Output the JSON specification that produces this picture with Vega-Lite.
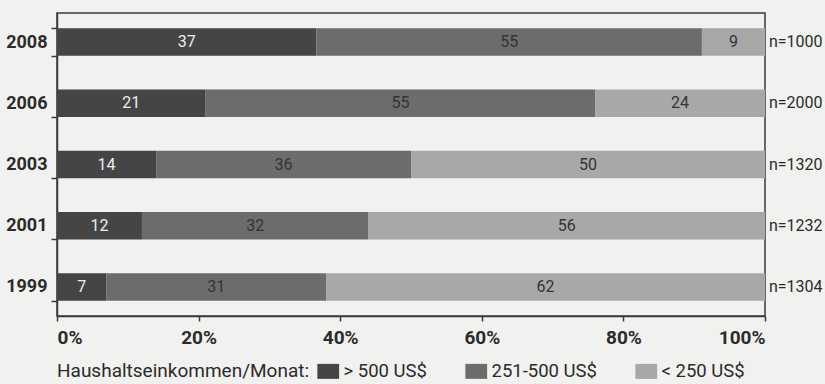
{
  "$schema": "https://vega.github.io/schema/vega-lite/v6.json",
  "width": 708,
  "height": 303,
  "autosize": {"type": "none"},
  "padding": {"left": 57, "top": 13, "right": 60, "bottom": 68},
  "background": "#f1f1ef",
  "datasets": {
    "bars": [
      {"year": "2008", "group": "> 500 US$", "rank": 1, "value": 37},
      {"year": "2008", "group": "251-500 US$", "rank": 2, "value": 55},
      {"year": "2008", "group": "< 250 US$", "rank": 3, "value": 9},
      {"year": "2006", "group": "> 500 US$", "rank": 1, "value": 21},
      {"year": "2006", "group": "251-500 US$", "rank": 2, "value": 55},
      {"year": "2006", "group": "< 250 US$", "rank": 3, "value": 24},
      {"year": "2003", "group": "> 500 US$", "rank": 1, "value": 14},
      {"year": "2003", "group": "251-500 US$", "rank": 2, "value": 36},
      {"year": "2003", "group": "< 250 US$", "rank": 3, "value": 50},
      {"year": "2001", "group": "> 500 US$", "rank": 1, "value": 12},
      {"year": "2001", "group": "251-500 US$", "rank": 2, "value": 32},
      {"year": "2001", "group": "< 250 US$", "rank": 3, "value": 56},
      {"year": "1999", "group": "> 500 US$", "rank": 1, "value": 7},
      {"year": "1999", "group": "251-500 US$", "rank": 2, "value": 31},
      {"year": "1999", "group": "< 250 US$", "rank": 3, "value": 62}
    ],
    "counts": [
      {"year": "2008", "label": "n=1000"},
      {"year": "2006", "label": "n=2000"},
      {"year": "2003", "label": "n=1320"},
      {"year": "2001", "label": "n=1232"},
      {"year": "1999", "label": "n=1304"}
    ]
  },
  "encoding": {
    "y": {
      "field": "year",
      "type": "nominal",
      "sort": ["2008", "2006", "2003", "2001", "1999"],
      "scale": {"paddingInner": 0.55, "paddingOuter": 0.25},
      "axis": {
        "title": null,
        "tickBand": "extent",
        "labelFontSize": 18,
        "labelFontWeight": "bold",
        "labelColor": "#2b2b2b",
        "labelPadding": 4,
        "tickSize": 6
      }
    }
  },
  "layer": [
    {
      "data": {"name": "bars"},
      "mark": {"type": "bar", "stroke": null},
      "encoding": {
        "x": {
          "field": "value",
          "type": "quantitative",
          "stack": "normalize",
          "axis": {
            "title": null,
            "format": "%",
            "values": [0, 0.2, 0.4, 0.6, 0.8, 1],
            "labelFontSize": 19,
            "labelFontWeight": "bold",
            "labelColor": "#2b2b2b",
            "tickSize": 5,
            "labelPadding": 7
          }
        },
        "color": {
          "field": "group",
          "type": "nominal",
          "scale": {
            "domain": ["> 500 US$", "251-500 US$", "< 250 US$"],
            "range": ["#454545", "#6c6c6c", "#a8a8a8"]
          },
          "legend": {
            "orient": "none",
            "legendX": 0,
            "legendY": 349,
            "direction": "horizontal",
            "title": "Haushaltseinkommen/Monat:",
            "titleOrient": "left",
            "titleFontSize": 19,
            "titleFontWeight": "normal",
            "titleColor": "#2b2b2b",
            "titleLimit": 400,
            "titlePadding": 9,
            "labelFontSize": 18.5,
            "labelColor": "#2b2b2b",
            "labelOffset": 6,
            "columnPadding": 38,
            "symbolType": "M-1.45,-1H1.45V1H-1.45Z",
            "symbolSize": 225,
            "symbolStrokeWidth": 0,
            "labelLimit": 200
          }
        },
        "order": {"field": "rank", "type": "quantitative"}
      }
    },
    {
      "data": {"name": "bars"},
      "mark": {"type": "text", "fontSize": 16, "baseline": "middle"},
      "encoding": {
        "x": {"field": "value", "type": "quantitative", "stack": "normalize", "bandPosition": 0.5},
        "detail": {"field": "group"},
        "order": {"field": "rank", "type": "quantitative"},
        "text": {"field": "value", "type": "quantitative"},
        "color": {
          "condition": {"test": "datum.group === '> 500 US$'", "value": "#eeeeee"},
          "value": "#333333"
        }
      }
    },
    {
      "data": {"name": "counts"},
      "mark": {"type": "text", "fontSize": 16, "align": "left", "baseline": "middle", "dx": 4, "color": "#2b2b2b"},
      "encoding": {
        "x": {"datum": 1, "type": "quantitative"},
        "text": {"field": "label"}
      }
    }
  ],
  "config": {
    "font": "Roboto, sans-serif",
    "view": {"stroke": "#3a3a3a", "strokeWidth": 1.5},
    "axis": {"grid": false, "domainColor": "#3a3a3a", "tickColor": "#3a3a3a", "domainWidth": 1.5, "tickWidth": 1.5}
  }
}
